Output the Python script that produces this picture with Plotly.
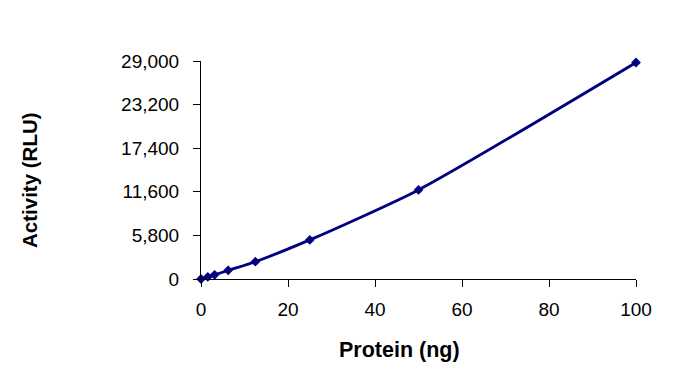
import plotly.graph_objects as go

protein_ng = [0, 1.5625, 3.125, 6.25, 12.5, 25, 50, 100]
activity_rlu = [0, 280, 550, 1150, 2300, 5200, 11850, 28800]
y_ticks = [0, 5800, 11600, 17400, 23200, 29000]
x_ticks = [0, 20, 40, 60, 80, 100]

FONT = "Arial, Liberation Sans, sans-serif"
NAVY = "#000080"

fig = go.Figure()
fig.add_trace(go.Scatter(
    x=protein_ng, y=activity_rlu,
    mode="lines+markers",
    line=dict(color=NAVY, width=2.8, shape="spline", smoothing=0.6),
    marker=dict(symbol="diamond", size=7.5, color=NAVY),
    cliponaxis=False,
    showlegend=False,
))

fig.update_layout(
    width=694, height=392,
    margin=dict(l=193, r=66, t=53, b=121),
    paper_bgcolor="white", plot_bgcolor="white",
    font=dict(family=FONT, color="black", size=19),
)
fig.update_xaxes(
    range=[0, 100], tickvals=x_ticks,
    showgrid=False, zeroline=False,
    showline=True, linecolor="black", linewidth=1,
    ticks="outside", ticklen=7, tickcolor="black",
    tickfont=dict(size=19),
    ticklabelstandoff=6,
)
fig.update_yaxes(
    range=[0, 29000], tickvals=y_ticks, tickformat=",",
    showgrid=False, zeroline=False,
    showline=True, linecolor="black", linewidth=1,
    ticks="outside", ticklen=7, tickcolor="black",
    tickfont=dict(size=19),
    ticklabelstandoff=10,
)
fig.add_annotation(
    text="<b>Protein (ng)</b>", xref="paper", yref="paper",
    x=(399 - 201) / 435, y=-(350 - 279) / 218,
    showarrow=False, font=dict(size=21.5, family=FONT, color="black"),
    xanchor="center", yanchor="middle",
)
fig.add_annotation(
    text="<b>Activity (RLU)</b>", xref="paper", yref="paper",
    x=-(201 - 29) / 435, y=(279 - 180) / 218,
    showarrow=False, textangle=-90,
    font=dict(size=20.5, family=FONT, color="black"),
    xanchor="center", yanchor="middle",
)

fig.write_html("out.html")
